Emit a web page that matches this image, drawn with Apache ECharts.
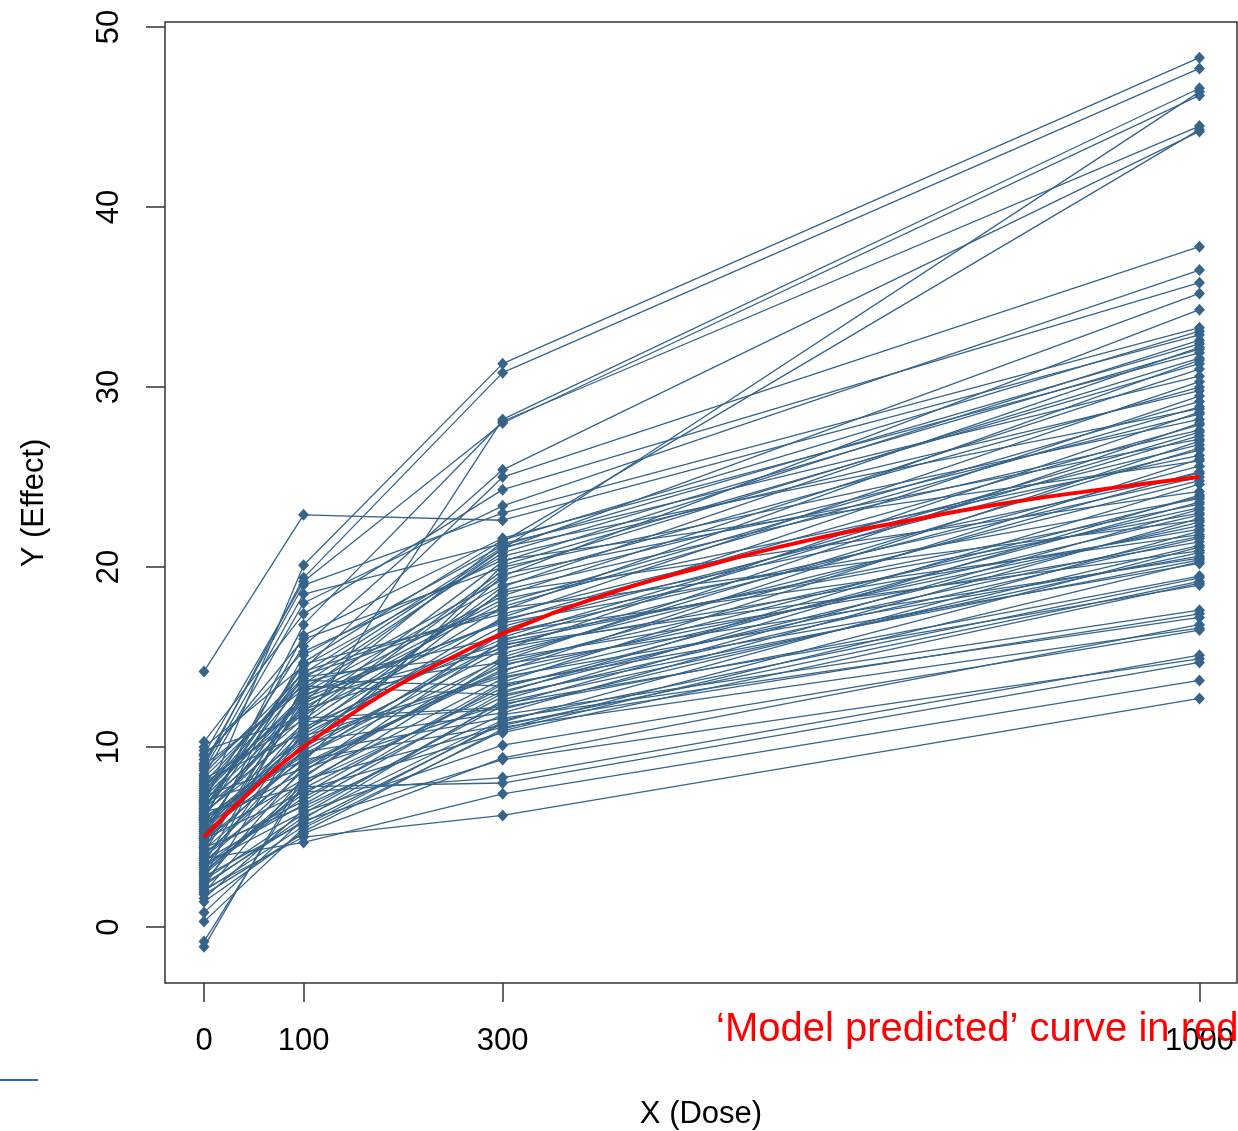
<!DOCTYPE html>
<html>
<head>
<meta charset="utf-8">
<script src="https://cdn.jsdelivr.net/npm/echarts@6/dist/echarts.min.js"></script>
<style>
html,body{margin:0;padding:0;background:#fff;}
#c{width:1238px;height:1131px;}
</style>
</head>
<body>
<div id="c"></div>
<script>
// Doses (x categories on a numeric axis)
const doses = [0, 100, 300, 1000];
const xTicks = [0, 100, 300, 1000];
const yTicks = [0, 10, 20, 30, 40, 50];

// Individual subject responses at each dose (subject i = index i in each array)
const y0 = [6.8,8.9,3.2,7.5,9.6,5.9,4.4,7.1,6.2,8.4,10.3,5.5,3.8,9.1,6.6,14.2,7.8,4.9,8.1,2.7,
  6.0,9.8,5.2,7.3,3.5,8.7,6.4,4.1,10.0,5.7,7.0,2.2,8.5,6.1,4.6,9.3,3.0,7.6,5.0,6.9,
  1.9,8.2,4.3,6.5,-1.1,5.4,7.9,3.4,9.5,5.8,2.5,6.7,4.8,8.0,3.7,6.3,0.8,5.3,7.4,2.9,
  4.5,9.0,1.6,6.6,3.9,5.6,7.7,-0.8,4.0,6.2,2.0,5.1,8.3,3.3,6.0,4.7,1.4,7.2,2.6,5.9,
  3.6,8.8,0.3,4.2,6.8,2.3,5.3,3.1,7.0,4.4,2.8,6.1,1.8,5.0,3.5,4.9,2.4,6.4,3.8,2.1];
const y100 = [20.1,19.4,11.2,13.8,19.2,16.8,12.5,15.6,14.3,18.0,17.4,13.1,9.9,19.0,14.7,22.9,12.0,15.1,10.8,13.5,
  16.2,11.7,14.0,9.2,12.8,18.5,10.5,13.3,14.5,8.6,12.2,11.0,14.1,9.6,13.0,16.0,7.9,12.7,10.2,13.6,
  8.3,11.5,9.0,14.6,8.4,10.9,12.4,7.4,15.3,10.0,8.9,11.9,9.4,13.9,6.8,11.3,6.0,10.6,12.9,7.7,
  9.8,13.2,6.5,11.1,8.1,10.3,14.2,8.0,9.1,12.1,5.6,10.7,13.7,7.2,9.5,11.4,5.3,12.6,6.3,10.4,
  8.7,13.4,5.5,7.0,11.6,6.1,9.3,7.6,8.8,6.7,5.8,9.7,5.2,8.2,6.4,7.5,5.9,7.8,4.7,5.0];
const y300 = [31.3,30.8,28.2,21.0,28.0,28.1,21.4,25.4,25.0,23.4,24.3,21.0,19.5,23.0,21.5,22.6,20.3,21.2,18.9,20.8,
  21.6,19.8,17.6,20.1,18.4,21.3,17.2,19.3,20.6,16.5,18.0,17.8,21.1,15.4,19.0,20.0,14.8,17.0,18.7,16.1,
  15.9,19.6,14.2,17.4,15.0,16.7,18.2,13.6,20.4,15.6,14.5,17.1,16.3,15.2,13.0,18.6,12.6,14.0,16.9,13.3,
  15.8,14.7,12.3,16.0,13.8,11.9,17.7,13.1,14.3,15.5,11.4,16.4,13.4,12.8,14.9,12.1,11.0,15.7,12.5,13.9,
  14.6,12.9,10.9,13.5,12.2,11.5,11.2,10.8,12.4,11.8,11.3,11.6,9.4,11.1,10.1,8.3,9.3,8.0,7.4,6.2];
const y1000 = [48.3,47.7,46.6,46.4,46.2,44.5,44.3,44.2,37.8,36.5,35.8,35.2,34.3,33.3,33.1,32.9,32.6,32.4,32.2,32.1,
  31.9,31.6,31.5,31.3,31.0,30.6,30.3,30.0,29.8,29.5,29.2,28.9,28.8,28.6,28.5,28.2,28.0,27.9,27.6,27.5,
  27.3,27.1,27.0,26.8,26.6,26.5,26.2,26.0,25.9,25.6,25.3,25.2,25.0,24.8,24.6,24.2,24.0,23.9,23.8,23.6,
  23.5,23.3,23.2,23.0,22.9,22.7,22.6,22.5,22.3,22.1,22.0,21.8,21.7,21.6,21.4,21.2,21.1,20.9,20.8,20.6,
  20.5,20.4,20.3,20.2,19.5,19.4,19.2,19.1,19.0,17.6,17.4,17.2,16.8,16.6,16.5,15.1,14.9,14.7,13.7,12.7];

// Model predicted curve
const modelDose = [0, 50, 100, 150, 200, 250, 300, 400, 500, 600, 700, 800, 900, 1000];
const modelEffect = [5.0, 7.7, 10.0, 11.9, 13.6, 15.0, 16.3, 18.4, 20.0, 21.4, 22.5, 23.5, 24.3, 25.0];

const FONT = '"Liberation Sans", Arial, sans-serif';
const BLUE = '#36648B';

const cols = [y0, y100, y300, y1000];
const series = y0.map((_, i) => ({
  type: 'line',
  data: doses.map((d, j) => [d, cols[j][i]]),
  symbol: 'diamond',
  symbolSize: [11, 12],
  showAllSymbol: true,
  itemStyle: { color: BLUE },
  lineStyle: { color: BLUE, width: 1.3 },
  silent: true,
  animation: false,
  z: 2
}));
series.push({
  type: 'line',
  data: modelDose.map((d, i) => [d, modelEffect[i]]),
  smooth: true,
  showSymbol: false,
  lineStyle: { color: '#FF0000', width: 4 },
  itemStyle: { color: '#FF0000' },
  silent: true,
  animation: false,
  z: 5
});

const chart = echarts.init(document.getElementById('c'), null, { renderer: 'canvas' });
chart.setOption({
  backgroundColor: '#ffffff',
  animation: false,
  grid: {
    left: 165, top: 22, width: 1072, height: 961,
    show: true, borderColor: '#333', borderWidth: 1.5, backgroundColor: 'transparent'
  },
  xAxis: {
    type: 'value', min: -39.2, max: 1037.7,
    splitLine: { show: false },
    axisLine: { show: false, onZero: false },
    axisTick: { show: true, customValues: xTicks, length: 19, lineStyle: { color: '#333', width: 1.5 } },
    axisLabel: { customValues: xTicks, fontSize: 31, color: '#000', margin: 43, fontFamily: FONT,
      formatter: v => String(v) }
  },
  yAxis: {
    type: 'value', min: -3.11, max: 50.28,
    splitLine: { show: false },
    axisLine: { show: false, onZero: false },
    axisTick: { show: true, customValues: yTicks, length: 19, lineStyle: { color: '#333', width: 1.5 } },
    axisLabel: { customValues: yTicks, fontSize: 31, color: '#000', margin: 40, rotate: 90, fontFamily: FONT,
      formatter: v => String(v) }
  },
  graphic: [
    { type: 'text', x: 701, y: 1114, z: 10,
      style: { text: 'X (Dose)', fontSize: 31, fontFamily: FONT, fill: '#000', align: 'center', verticalAlign: 'middle' } },
    { type: 'text', x: 34, y: 503, rotation: Math.PI / 2, z: 10,
      style: { text: 'Y (Effect)', fontSize: 31, fontFamily: FONT, fill: '#000', align: 'center', verticalAlign: 'middle' } },
    { type: 'text', x: 716, y: 1030, z: 20,
      style: { text: '\u2018Model predicted\u2019 curve in red', fontSize: 40, fontFamily: FONT, fill: '#FF0000', align: 'left', verticalAlign: 'middle' } },
    { type: 'line', z: 10, shape: { x1: 0, y1: 1080, x2: 38, y2: 1080 }, style: { stroke: '#2E6AAE', lineWidth: 2 } }
  ],
  series: series
});
</script>
</body>
</html>
